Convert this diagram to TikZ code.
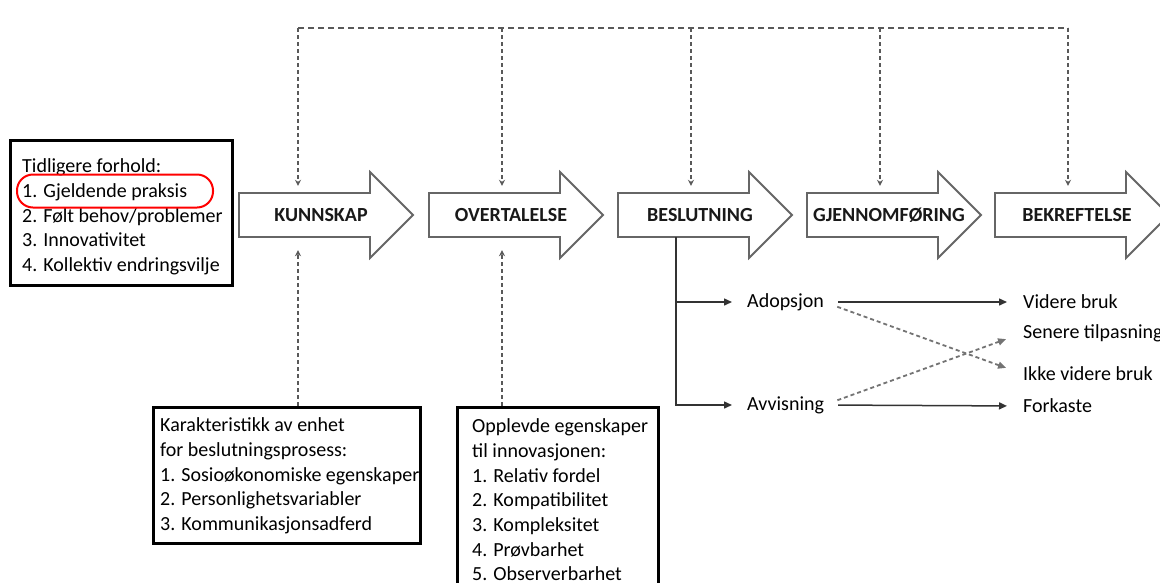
\documentclass[tikz,border=0pt]{standalone}
\usepackage{fontspec}
\setmainfont{Carlito}
\usetikzlibrary{arrows.meta,calc}
\tikzset{
  stageoutline/.style={draw=black!60, line width=1.8pt, fill=white, line join=miter},
  stagelabel/.style={font=\fontsize{20}{22}\selectfont\bfseries, inner sep=0pt, minimum width=164pt, minimum height=44pt, text=black!90},
  fbline/.style={draw=black!65, line width=1.8pt, dash pattern=on 6pt off 4pt},
  fbvert/.style={draw=black!65, line width=1.8pt, dash pattern=on 4pt off 3pt, -{Stealth[length=6pt,width=6pt]}},
  infobox/.style={draw=black, line width=3pt, inner sep=0pt},
  infotext/.style={font=\fontsize{20}{24.7}\selectfont, align=left, inner sep=0pt, anchor=west},
  highlight/.style={draw=red, line width=2pt, rounded corners=16pt, inner sep=0pt},
  outcome/.style={font=\fontsize{20}{23}\selectfont, inner sep=0pt, anchor=west},
  branch/.style={draw=black!80, line width=1.5pt, -{Triangle[length=8pt,width=7pt]}},
  crossline/.style={draw=black!55, line width=1.8pt, dash pattern=on 4pt off 3pt, -{Triangle[length=8pt,width=7pt]}},
}
\newcommand\stagearrow[3]{%
  \draw[stageoutline] (#1,193) -- (#1+131,193) -- (#1+131,172) -- (#1+174,215) -- (#1+131,258) -- (#1+131,237) -- (#1,237) -- cycle;
  \node[stagelabel] (#2) at (#1+82,215) {#3};}
\begin{document}
\begin{tikzpicture}[x=1pt,y=-1pt]
\clip (0,0) rectangle (1160,582);
\fill[white] (0,0) rectangle (1160,582);

% stages
\stagearrow{239}{kunn}{KUNNSKAP}
\stagearrow{429}{over}{OVERTALELSE}
\stagearrow{618}{besl}{BESLUTNING}
\stagearrow{807}{gjen}{GJENNOMFØRING}
\stagearrow{995}{bekr}{BEKREFTELSE}

% feedback line
\coordinate (fb1) at (298,28);
\coordinate (fb2) at (502,28);
\coordinate (fb3) at (691,28);
\coordinate (fb4) at (880,28);
\coordinate (fb5) at (1068,28);
\draw[fbline] (fb1) -- (fb5);
\draw[fbvert, shorten >=7pt] (fb1) -- (fb1 |- kunn.north);
\draw[fbvert, shorten >=7pt] (fb2) -- (fb2 |- over.north);
\draw[fbvert, shorten >=7pt] (fb3) -- (fb3 |- besl.north);
\draw[fbvert, shorten >=7pt] (fb4) -- (fb4 |- gjen.north);
\draw[fbvert, shorten >=7pt] (fb5) -- (fb5 |- bekr.north);

% prior conditions
\node[infotext] (priortext) at (22,217) {Tidligere forhold:\\1. Gjeldende praksis\\2. Følt behov/problemer\\3. Innovativitet\\4. Kollektiv endringsvilje};
\node[infobox, minimum width=222, minimum height=145] (prior) at (121,212.5) {};
\node[highlight, minimum width=196, minimum height=33] (hl) at (115,191) {};

% bottom boxes
\node[infotext] (unittext) at (160,476) {Karakteristikk av enhet\\for beslutningsprosess:\\1. Sosioøkonomiske egenskaper\\2. Personlighetsvariabler\\3. Kommunikasjonsadferd};
\node[infobox, minimum width=267, minimum height=136] (unit) at (286.5,475) {};
\node[infotext] (attrtext) at (472,500) {Opplevde egenskaper\\til innovasjonen:\\1. Relativ fordel\\2. Kompatibilitet\\3. Kompleksitet\\4. Prøvbarhet\\5. Observerbarhet};
\node[infobox, minimum width=201, minimum height=200] (attr) at (557.5,507) {};

\draw[fbvert, shorten >=13pt] (unit.north -| fb1) -- (fb1 |- kunn.south);
\draw[fbvert, shorten >=13pt] (attr.north -| fb2) -- (fb2 |- over.south);

% decision branches
\coordinate (split) at (676,237);
\node[outcome] (adop) at (747,302) {Adopsjon};
\node[outcome] (avvis) at (747,405) {Avvisning};
\node[outcome] (videre) at (1023,302) {Videre bruk};
\node[outcome] (senere) at (1023,333) {Senere tilpasning};
\node[outcome] (ikke) at (1023,374) {Ikke videre bruk};
\node[outcome] (forkaste) at (1023,406) {Forkaste};

\draw[branch, shorten >=15pt] (split) |- (adop.west);
\draw[branch, shorten >=15pt] (split) |- (avvis.west);
\draw[branch, shorten <=14pt, shorten >=16pt] (adop.east) -- (videre.west);
\draw[branch, shorten <=14pt, shorten >=16pt] (avvis.east) -- (forkaste.west);
\draw[crossline, shorten <=14pt, shorten >=18pt] (adop.east) -- (ikke.west);
\draw[crossline, shorten <=14pt, shorten >=18pt] (avvis.east) -- (senere.west);
\end{tikzpicture}
\end{document}
